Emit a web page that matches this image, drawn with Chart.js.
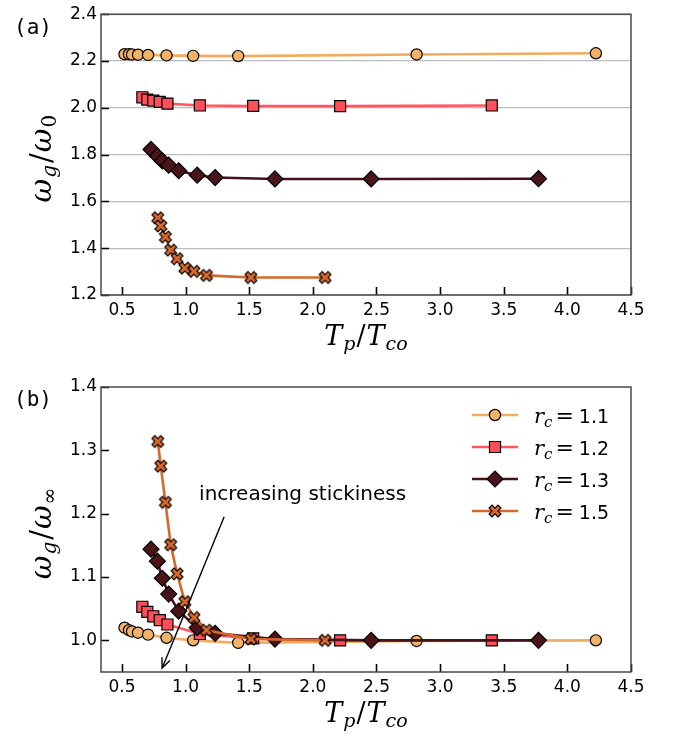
<!DOCTYPE html>
<html>
<head>
<meta charset="utf-8">
<script src="https://cdn.jsdelivr.net/npm/chart.js@4.4.0/dist/chart.umd.min.js"></script>
<style>
  html, body { margin: 0; padding: 0; background: #fff; }
  #wrap { position: relative; width: 678px; height: 734px; }
  canvas { position: absolute; left: 0; }
  #chartA { top: 0; }
  #chartB { top: 367px; }
</style>
</head>
<body>
<div id="wrap">
  <canvas id="chartA" width="678" height="367"></canvas>
  <canvas id="chartB" width="678" height="367"></canvas>
</div>
<script>
// axis ticks
const xTicks = [0.5, 1.0, 1.5, 2.0, 2.5, 3.0, 3.5, 4.0, 4.5];
const yTicksA = [1.2, 1.4, 1.6, 1.8, 2.0, 2.2, 2.4];
const yTicksB = [1.0, 1.1, 1.2, 1.3, 1.4];

// r_c values (legend)
const rcLabels = ["1.1", "1.2", "1.3", "1.5"];

// T_p / T_co for each r_c
const x11 = [0.52, 0.555, 0.579, 0.626, 0.705, 0.85, 1.059, 1.413, 2.815, 4.224];
const x12 = [0.66, 0.699, 0.746, 0.797, 0.857, 1.112, 1.531, 2.214, 3.406];
const x13 = [0.728, 0.778, 0.817, 0.867, 0.946, 1.091, 1.232, 1.702, 2.458, 3.773];
const x15 = [0.781, 0.805, 0.841, 0.883, 0.933, 0.994, 1.065, 1.164, 1.513, 2.096];

// (a) omega_g / omega_0
const a11 = [2.229, 2.229, 2.228, 2.227, 2.226, 2.224, 2.222, 2.221, 2.228, 2.233];
const a12 = [2.045, 2.035, 2.031, 2.025, 2.018, 2.010, 2.008, 2.007, 2.010];
const a13 = [1.822, 1.794, 1.773, 1.755, 1.731, 1.712, 1.702, 1.696, 1.696, 1.697];
const a15 = [1.530, 1.495, 1.448, 1.392, 1.355, 1.315, 1.301, 1.284, 1.275, 1.275];

// (b) omega_g / omega_inf
const b11 = [1.020, 1.016, 1.014, 1.012, 1.009, 1.004, 1.000, 0.996, 0.999, 1.000];
const b12 = [1.053, 1.045, 1.038, 1.032, 1.025, 1.010, 1.003, 1.000, 1.000];
const b13 = [1.144, 1.125, 1.098, 1.073, 1.046, 1.020, 1.011, 1.002, 1.000, 1.000];
const b15 = [1.314, 1.275, 1.218, 1.151, 1.105, 1.061, 1.036, 1.016, 1.002, 1.000];

// annotation in (b), data coords
const noteText = "increasing stickiness";
const noteAt = [1.106, 1.221];
const arrowFrom = [1.303, 1.195];
const arrowTo = [0.815, 0.956];

const xsAll = [x11, x12, x13, x15];

function makeXMarker(fill, size) {
    const d = Math.ceil(size + 5);
    const c = document.createElement("canvas");
    c.width = d; c.height = d;
    const g = c.getContext("2d");
    const pts = [[-1,-3],[1,-3],[1,-1],[3,-1],[3,1],[1,1],[1,3],[-1,3],[-1,1],[-3,1],[-3,-1],[-1,-1]];
    g.translate(d / 2, d / 2);
    g.rotate(Math.PI / 4);
    g.beginPath();
    pts.forEach((p, i) => {
        const x = p[0] / 6 * size, y = p[1] / 6 * size;
        if (i) g.lineTo(x, y); else g.moveTo(x, y);
    });
    g.closePath();
    g.fillStyle = fill;
    g.fill();
    g.lineWidth = 1.2;
    g.strokeStyle = "#000";
    g.stroke();
    return c;
}

const styles = [
    { line: "#f1ac5f", fill: "#f3b366", pointStyle: "circle", radius: 5.6 },
    { line: "#ff5762", fill: "#ff4f5b", pointStyle: "rect", radius: 7.8 },
    { line: "#45121a", fill: "#4b1418", pointStyle: "rectRot", radius: 8 },
    { line: "#d5692c", fill: "#d9692a", pointStyle: makeXMarker("#d9692a", 12.5), radius: 6 }
];

function makeDatasets(ysAll) {
    return styles.map((s, i) => ({
        label: rcLabels[i],
        data: xsAll[i].map((x, j) => ({ x: x, y: ysAll[i][j] })),
        borderColor: s.line,
        backgroundColor: s.fill,
        borderWidth: 2.6,
        pointStyle: s.pointStyle,
        pointRadius: s.radius,
        pointBorderColor: "#000",
        pointBorderWidth: 1.2,
        pointBackgroundColor: s.fill,
        tension: 0,
        order: 4 - i
    }));
}

function drawMath(ctx, parts, x, y, align) {
    let w = 0;
    parts.forEach(p => { ctx.font = p[1]; w += ctx.measureText(p[0]).width + (p[3] || 0); });
    let cx = align === "center" ? x - w / 2 : x;
    parts.forEach(p => {
        ctx.font = p[1];
        ctx.fillText(p[0], cx, y + p[2]);
        cx += ctx.measureText(p[0]).width + (p[3] || 0);
    });
    return w;
}

const MI = "italic 27px 'DejaVu Serif'";
const MS = "italic 19px 'DejaVu Serif'";
const MU = "19px 'DejaVu Serif'";
const MR = "27px 'DejaVu Serif'";
const YI = "italic 29px 'DejaVu Serif'";
const YS = "italic 20px 'DejaVu Serif'";
const YU = "20px 'DejaVu Serif'";
const YR = "29px 'DejaVu Serif'";

const framePlugin = {
    id: "frame",
    afterDraw(chart, args, opts) {
        const ctx = chart.ctx;
        const a = chart.chartArea;
        const xs = chart.scales.x, ys = chart.scales.y;
        ctx.save();

        // inward ticks
        ctx.strokeStyle = "#000";
        ctx.lineWidth = 1.6;
        ctx.beginPath();
        xs.ticks.forEach(t => {
            const px = Math.round(xs.getPixelForValue(t.value)) + 0.5;
            ctx.moveTo(px, a.bottom); ctx.lineTo(px, a.bottom - 8);
        });
        ys.ticks.forEach(t => {
            const py = Math.round(ys.getPixelForValue(t.value)) + 0.5;
            ctx.moveTo(a.left, py); ctx.lineTo(a.left + 8, py);
        });
        ctx.stroke();

        // box
        ctx.strokeStyle = "#4a4a4a";
        ctx.lineWidth = 1.5;
        ctx.strokeRect(a.left, a.top, a.right - a.left, a.bottom - a.top);

        ctx.fillStyle = "#000";
        ctx.textBaseline = "alphabetic";

        // panel label
        ctx.font = "21px 'DejaVu Sans Mono'";
        ctx.textAlign = "left";
        ctx.fillText(opts.panel, 14, a.top + opts.panelDy);

        // x title
        drawMath(ctx, [
            ["T", MI, 0, 1], ["p", MS, 5, 1], ["/", MR, 0, 1], ["T", MI, 0, 1], ["co", MS, 5]
        ], (a.left + a.right) / 2, a.bottom + 50, "center");

        // y title
        ctx.translate(a.left - 50, (a.top + a.bottom) / 2 + 4);
        ctx.rotate(-Math.PI / 2);
        drawMath(ctx, [
            ["ω", YI, 0, 1], ["g", YS, 5, 2], ["/", YR, 0, 1], ["ω", YI, 0, 1], [opts.sub, YU, 5]
        ], 0, 0, "center");
        ctx.restore();

        if (opts.legend) drawLegend(chart);
        if (opts.note) drawNote(chart);
    }
};

function drawLegend(chart) {
    const ctx = chart.ctx;
    const a = chart.chartArea;
    ctx.save();
    chart.data.datasets.forEach((ds, i) => {
        const y = a.top + 28 + i * 32;
        const x0 = a.right - 159;
        ctx.strokeStyle = ds.borderColor;
        ctx.lineWidth = 2.6;
        ctx.beginPath();
        ctx.moveTo(x0, y); ctx.lineTo(x0 + 46, y);
        ctx.stroke();
        ctx.fillStyle = ds.pointBackgroundColor;
        ctx.strokeStyle = "#000";
        ctx.lineWidth = 1.2;
        Chart.helpers.drawPoint(ctx, { pointStyle: ds.pointStyle, radius: ds.pointRadius, rotation: 0, borderWidth: 1.2 }, x0 + 23, y);
        ctx.fillStyle = "#000";
        ctx.textAlign = "left";
        ctx.textBaseline = "alphabetic";
        drawMath(ctx, [
            ["r", "italic 21px 'DejaVu Serif'", 0, 0],
            ["c", "italic 15px 'DejaVu Serif'", 4, 3],
            ["=", "22px 'DejaVu Serif'", 0, 5],
            [ds.label, "19px 'DejaVu Sans'", 0]
        ], x0 + 62, y + 8, "left");
    });
    ctx.restore();
}

function drawNote(chart) {
    const ctx = chart.ctx;
    const xs = chart.scales.x, ys = chart.scales.y;
    ctx.save();
    ctx.fillStyle = "#000";
    ctx.font = "20px 'DejaVu Sans'";
    ctx.textAlign = "left";
    ctx.textBaseline = "alphabetic";
    ctx.fillText(noteText, xs.getPixelForValue(noteAt[0]), ys.getPixelForValue(noteAt[1]));
    const x1 = xs.getPixelForValue(arrowFrom[0]), y1 = ys.getPixelForValue(arrowFrom[1]);
    const x2 = xs.getPixelForValue(arrowTo[0]), y2 = ys.getPixelForValue(arrowTo[1]);
    const ang = Math.atan2(y2 - y1, x2 - x1);
    ctx.strokeStyle = "#000";
    ctx.lineWidth = 1.4;
    ctx.beginPath();
    ctx.moveTo(x1, y1); ctx.lineTo(x2, y2);
    ctx.moveTo(x2 - 11 * Math.cos(ang - 0.4), y2 - 11 * Math.sin(ang - 0.4));
    ctx.lineTo(x2, y2);
    ctx.lineTo(x2 - 11 * Math.cos(ang + 0.4), y2 - 11 * Math.sin(ang + 0.4));
    ctx.stroke();
    ctx.restore();
}

function makeChart(id, ysAll, yTicks, yMin, yMax, axisH, padTop, showGrid, frameOpts) {
    const ctx = document.getElementById(id).getContext("2d");
    return new Chart(ctx, {
        type: "line",
        data: { datasets: makeDatasets(ysAll) },
        options: {
            responsive: false,
            animation: false,
            devicePixelRatio: 1,
            layout: { padding: { top: padTop, right: 47, left: 0, bottom: 0 } },
            plugins: { legend: { display: false }, tooltip: { enabled: false }, frame: frameOpts },
            scales: {
                x: {
                    type: "linear", min: 0.335, max: 4.5,
                    afterBuildTicks: s => { s.ticks = xTicks.map(v => ({ value: v })); },
                    afterFit: s => { s.height = axisH; },
                    grid: { display: false, drawTicks: false },
                    border: { display: false },
                    ticks: { color: "#000", padding: 5, maxRotation: 0, font: { family: "DejaVu Sans", size: 17 },
                             callback: v => v.toFixed(1) }
                },
                y: {
                    type: "linear", min: yMin, max: yMax,
                    afterBuildTicks: s => { s.ticks = yTicks.map(v => ({ value: v })); },
                    afterFit: s => { s.width = 101; },
                    grid: { display: showGrid, drawTicks: false, color: "#bcbcbc", lineWidth: 1.2 },
                    border: { display: false },
                    ticks: { color: "#000", padding: 4, font: { family: "DejaVu Sans", size: 17 },
                             callback: v => v.toFixed(1) }
                }
            }
        },
        plugins: [framePlugin]
    });
}

makeChart("chartA", [a11, a12, a13, a15], yTicksA, 1.2, 2.4, 72, 10, true,
    { panel: "(a)", panelDy: 20, sub: "0", legend: false, note: false });
makeChart("chartB", [b11, b12, b13, b15], yTicksB, 0.95, 1.4, 62, 20, false,
    { panel: "(b)", panelDy: 19, sub: "∞", legend: true, note: true });
</script>
</body>
</html>
